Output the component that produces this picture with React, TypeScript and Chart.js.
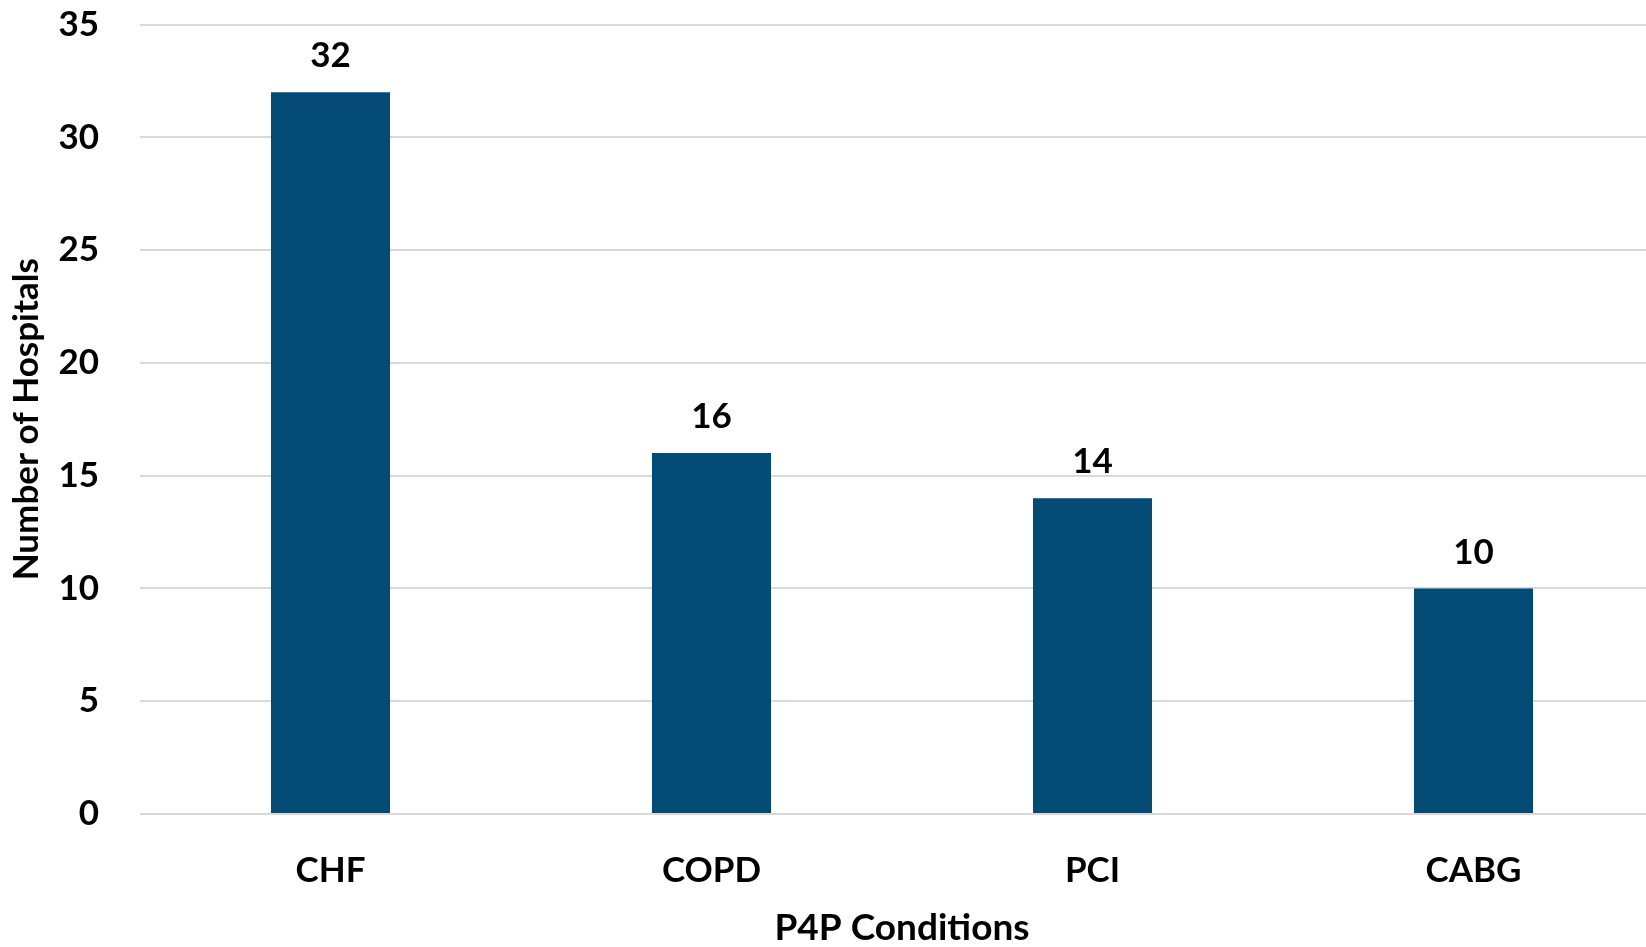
import React, { useEffect, useRef } from "react";
import { Chart, registerables } from "chart.js";

Chart.register(...registerables);

const categories = ["CHF", "COPD", "PCI", "CABG"];
const hospitalCounts = [32, 16, 14, 10];
const yTicks = [0, 5, 10, 15, 20, 25, 30, 35];

const FONT = "Lato, 'Noto Sans', sans-serif";

const valueLabels = {
  id: "valueLabels",
  afterDatasetsDraw(chart: any) {
    const ctx = chart.ctx;
    const meta = chart.getDatasetMeta(0);
    ctx.save();
    ctx.font = `bold 35px ${FONT}`;
    ctx.fillStyle = "#000000";
    ctx.textAlign = "center";
    ctx.textBaseline = "middle";
    meta.data.forEach((bar: any, i: number) => {
      ctx.fillText(String(hospitalCounts[i]), bar.x, bar.y - 36);
    });
    ctx.restore();
  },
};

export default function App() {
  const ref = useRef<HTMLCanvasElement | null>(null);
  useEffect(() => {
    if (!ref.current) return;
    const chart = new Chart(ref.current, {
      type: "bar",
      data: {
        labels: categories,
        datasets: [
          {
            data: hospitalCounts,
            backgroundColor: "#034a74",
            categoryPercentage: 1,
            barPercentage: 0.3125,
          },
        ],
      },
      options: {
        animation: false,
        responsive: false,
        maintainAspectRatio: false,
        layout: { padding: { top: 24.5, left: 0, right: 0, bottom: 0 } },
        plugins: { legend: { display: false }, tooltip: { enabled: false } },
        scales: {
          x: {
            grid: { display: false },
            border: { display: false },
            ticks: {
              color: "#000",
              font: { family: FONT, size: 35, weight: "bold" },
              padding: 28,
            },
            title: {
              display: true,
              text: "P4P Conditions",
              color: "#000",
              font: { family: FONT, size: 37, weight: "bold", lineHeight: 1 },
              padding: { top: 0, bottom: 0 },
            },
            afterFit(scale: any) {
              scale.height = 133;
              scale.paddingLeft = 0;
              scale.paddingRight = 0;
            },
          },
          y: {
            min: 0,
            max: 35,
            afterBuildTicks(scale: any) {
              scale.ticks = yTicks.map((v) => ({ value: v }));
            },
            grid: { color: "#d9d9d9", lineWidth: 2, drawTicks: false },
            border: { display: false },
            ticks: {
              color: "#000",
              font: { family: FONT, size: 35, weight: "bold" },
              padding: 41,
            },
            title: {
              display: true,
              text: "Number of Hospitals",
              color: "#000",
              font: { family: FONT, size: 35, weight: "bold", lineHeight: 1.2 },
              padding: { top: 6, bottom: 6 },
            },
            afterFit(scale: any) {
              scale.width = 140;
              scale.paddingTop = 0;
              scale.paddingBottom = 0;
            },
          },
        },
      },
      plugins: [valueLabels],
    });
    return () => chart.destroy();
  }, []);
  return (
    <div
      style={{
        position: "fixed",
        left: 0,
        top: 0,
        width: 1646,
        height: 947,
        overflow: "hidden",
        background: "#fff",
      }}
    >
      <canvas ref={ref} width={1664} height={947} style={{ display: "block" }} />
    </div>
  );
}
